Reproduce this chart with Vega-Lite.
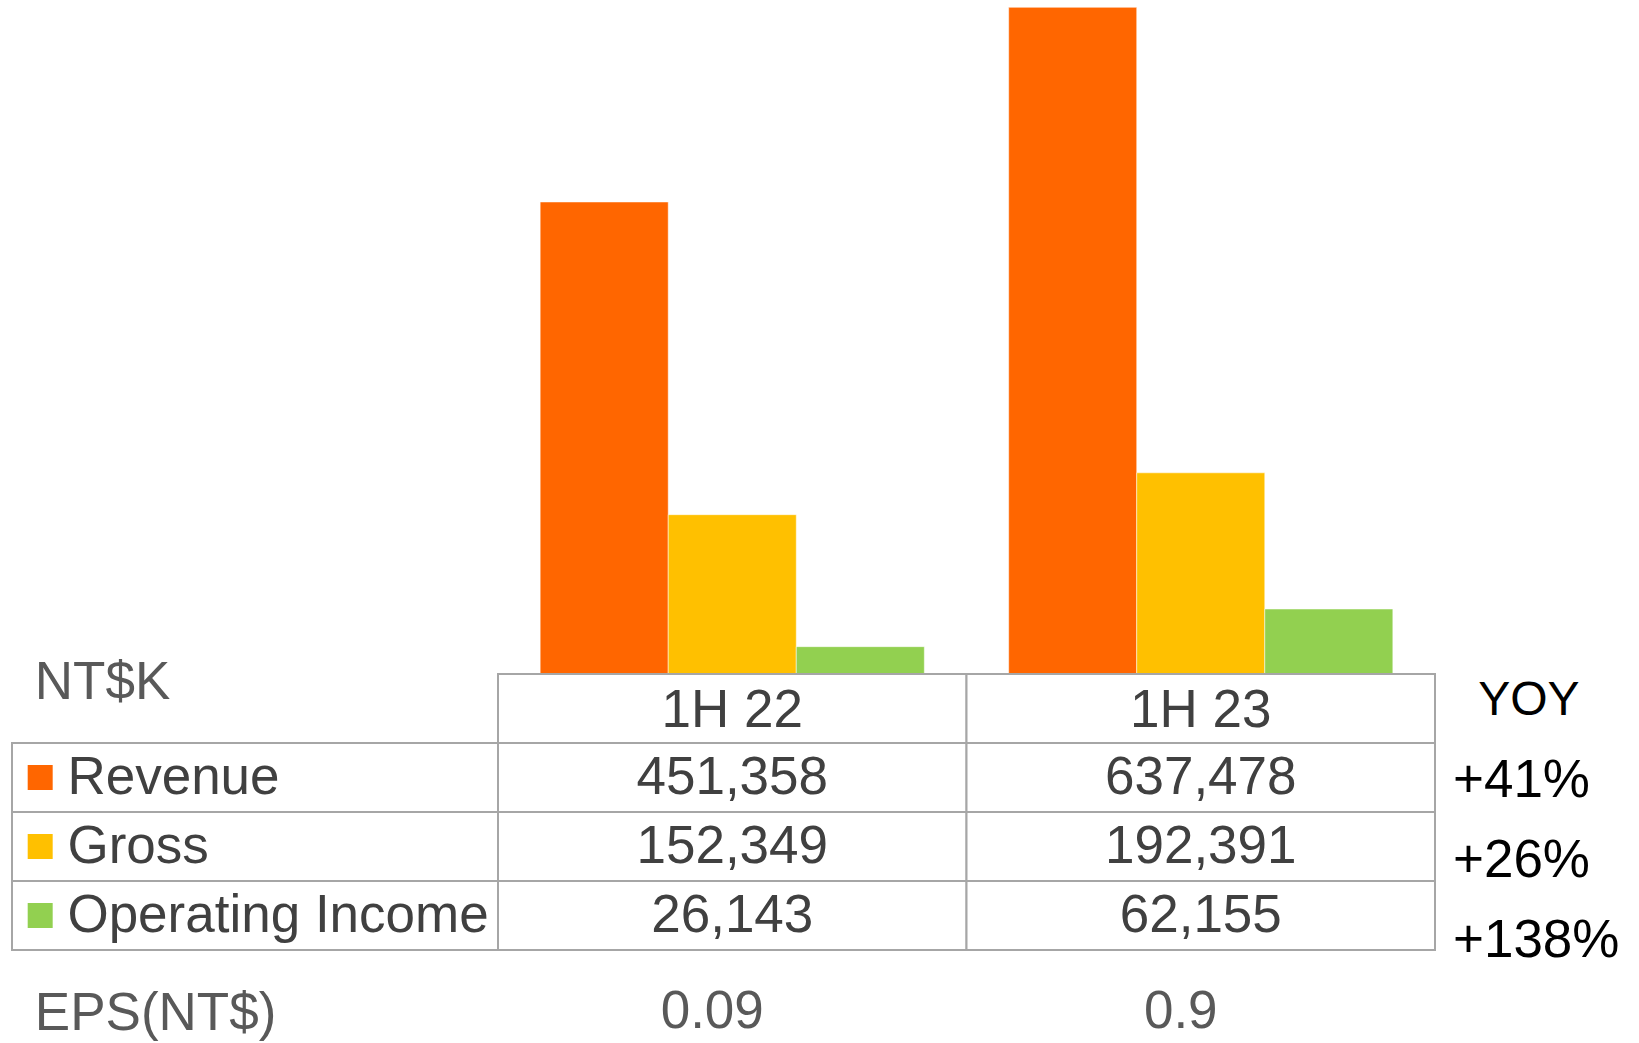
{
  "$schema": "https://vega.github.io/schema/vega-lite/v6.json",
  "background": "white",
  "padding": {"left": 11, "top": 0, "right": 0, "bottom": 0},
  "config": {
    "font": "Liberation Sans",
    "view": {"stroke": null},
    "axis": {"disable": true},
    "legend": {"disable": true}
  },
  "datasets": {
    "financials": [
      {"period": "1H 22", "metric": "Revenue", "value": 451358},
      {"period": "1H 22", "metric": "Gross", "value": 152349},
      {"period": "1H 22", "metric": "Operating Income", "value": 26143},
      {"period": "1H 23", "metric": "Revenue", "value": 637478},
      {"period": "1H 23", "metric": "Gross", "value": 192391},
      {"period": "1H 23", "metric": "Operating Income", "value": 62155}
    ],
    "metrics": [
      {"metric": "Revenue", "yoy": 0.41},
      {"metric": "Gross", "yoy": 0.26},
      {"metric": "Operating Income", "yoy": 1.38}
    ],
    "periods": [
      {"period": "1H 22", "eps": 0.09},
      {"period": "1H 23", "eps": 0.9}
    ]
  },
  "spacing": 0,
  "bounds": "flush",
  "columns": 3,
  "concat": [
    {
      "width": 486,
      "height": 674,
      "data": {"values": [{"t": ""}]},
      "mark": {"type": "text"},
      "encoding": {"text": {"field": "t"}}
    },
    {
      "width": 937,
      "height": 674,
      "data": {"name": "financials"},
      "mark": {"type": "bar", "stroke": "white", "strokeWidth": 1, "strokeOpacity": 0.5},
      "encoding": {
        "x": {"field": "period", "type": "nominal", "scale": {"domain": ["1H 22", "1H 23"], "paddingInner": 0.18, "paddingOuter": 0.09}, "axis": null},
        "xOffset": {"field": "metric", "type": "nominal", "scale": {"domain": ["Revenue", "Gross", "Operating Income"], "paddingInner": 0, "paddingOuter": 0}},
        "y": {"field": "value", "type": "quantitative", "scale": {"domain": [0, 644500], "nice": false}, "axis": null},
        "color": {"field": "metric", "type": "nominal", "scale": {"domain": ["Revenue", "Gross", "Operating Income"], "range": ["#FF6600", "#FFC000", "#92D050"]}, "legend": null}
      }
    },
    {
      "width": 204,
      "height": 674,
      "data": {"values": [{"t": ""}]},
      "mark": {"type": "text"},
      "encoding": {"text": {"field": "t"}}
    },
    {
      "width": 486,
      "height": 345,
      "layer": [
        {
          "data": {"name": "metrics"},
          "mark": {"type": "rect", "fill": "white", "stroke": "#A6A6A6", "strokeWidth": 2},
          "encoding": {
            "x": {"datum": 0, "type": "quantitative", "scale": {"domain": [0, 1]}},
            "x2": {"datum": 1},
            "y": {"field": "metric", "type": "nominal", "scale": {"type": "band", "domain": ["Period", "Revenue", "Gross", "Operating Income", "EPS"], "paddingInner": 0, "paddingOuter": 0}}
          }
        },
        {
          "data": {"name": "metrics"},
          "mark": {"type": "point", "shape": "square", "filled": true, "size": 625, "opacity": 1},
          "encoding": {
            "x": {"datum": 0.058, "type": "quantitative", "scale": {"domain": [0, 1]}},
            "y": {"field": "metric", "type": "nominal", "scale": {"type": "band", "domain": ["Period", "Revenue", "Gross", "Operating Income", "EPS"], "paddingInner": 0, "paddingOuter": 0}},
            "color": {"field": "metric", "type": "nominal", "scale": {"domain": ["Revenue", "Gross", "Operating Income"], "range": ["#FF6600", "#FFC000", "#92D050"]}, "legend": null}
          }
        },
        {
          "data": {"name": "metrics"},
          "mark": {"type": "text", "align": "left", "baseline": "middle", "fontSize": 53, "color": "#404040"},
          "encoding": {
            "x": {"datum": 0.114, "type": "quantitative", "scale": {"domain": [0, 1]}},
            "y": {"field": "metric", "type": "nominal", "scale": {"type": "band", "domain": ["Period", "Revenue", "Gross", "Operating Income", "EPS"], "paddingInner": 0, "paddingOuter": 0}},
            "text": {"field": "metric"}
          }
        },
        {
          "data": {"values": [{"row": "Period", "label": "NT$K"}]},
          "mark": {"type": "text", "align": "left", "baseline": "middle", "fontSize": 53, "color": "#595959"},
          "encoding": {
            "x": {"datum": 0.047, "type": "quantitative", "scale": {"domain": [0, 1]}},
            "y": {"field": "row", "type": "nominal", "bandPosition": 0.13, "scale": {"type": "band", "domain": ["Period", "Revenue", "Gross", "Operating Income", "EPS"], "paddingInner": 0, "paddingOuter": 0}},
            "text": {"field": "label"}
          }
        },
        {
          "data": {"values": [{"row": "EPS", "label": "EPS(NT$)"}]},
          "mark": {"type": "text", "align": "left", "baseline": "middle", "fontSize": 53, "color": "#595959"},
          "encoding": {
            "x": {"datum": 0.047, "type": "quantitative", "scale": {"domain": [0, 1]}},
            "y": {"field": "row", "type": "nominal", "bandPosition": 0.93, "scale": {"type": "band", "domain": ["Period", "Revenue", "Gross", "Operating Income", "EPS"], "paddingInner": 0, "paddingOuter": 0}},
            "text": {"field": "label"}
          }
        }
      ]
    },
    {
      "width": 937,
      "height": 345,
      "layer": [
        {
          "data": {"name": "periods"},
          "mark": {"type": "rect", "fill": "white", "stroke": "#A6A6A6", "strokeWidth": 2},
          "encoding": {
            "x": {"field": "period", "type": "nominal", "scale": {"domain": ["1H 22", "1H 23"], "paddingInner": 0, "paddingOuter": 0}},
            "y": {"datum": "Period", "type": "nominal", "scale": {"type": "band", "domain": ["Period", "Revenue", "Gross", "Operating Income", "EPS"], "paddingInner": 0, "paddingOuter": 0}}
          }
        },
        {
          "data": {"name": "financials"},
          "mark": {"type": "rect", "fill": "white", "stroke": "#A6A6A6", "strokeWidth": 2},
          "encoding": {
            "x": {"field": "period", "type": "nominal", "scale": {"domain": ["1H 22", "1H 23"], "paddingInner": 0, "paddingOuter": 0}},
            "y": {"field": "metric", "type": "nominal", "scale": {"type": "band", "domain": ["Period", "Revenue", "Gross", "Operating Income", "EPS"], "paddingInner": 0, "paddingOuter": 0}}
          }
        },
        {
          "data": {"name": "periods"},
          "mark": {"type": "text", "align": "center", "baseline": "middle", "fontSize": 53, "color": "#404040", "dy": 2},
          "encoding": {
            "x": {"field": "period", "type": "nominal", "scale": {"domain": ["1H 22", "1H 23"], "paddingInner": 0, "paddingOuter": 0}},
            "y": {"datum": "Period", "type": "nominal", "scale": {"type": "band", "domain": ["Period", "Revenue", "Gross", "Operating Income", "EPS"], "paddingInner": 0, "paddingOuter": 0}},
            "text": {"field": "period"}
          }
        },
        {
          "data": {"name": "financials"},
          "mark": {"type": "text", "align": "center", "baseline": "middle", "fontSize": 53, "color": "#404040"},
          "encoding": {
            "x": {"field": "period", "type": "nominal", "scale": {"domain": ["1H 22", "1H 23"], "paddingInner": 0, "paddingOuter": 0}},
            "y": {"field": "metric", "type": "nominal", "scale": {"type": "band", "domain": ["Period", "Revenue", "Gross", "Operating Income", "EPS"], "paddingInner": 0, "paddingOuter": 0}},
            "text": {"field": "value", "type": "quantitative", "format": ","}
          }
        },
        {
          "data": {"name": "periods"},
          "mark": {"type": "text", "align": "center", "baseline": "middle", "fontSize": 53, "color": "#595959", "dx": -20, "dy": 27},
          "encoding": {
            "x": {"field": "period", "type": "nominal", "scale": {"domain": ["1H 22", "1H 23"], "paddingInner": 0, "paddingOuter": 0}},
            "y": {"datum": "EPS", "type": "nominal", "scale": {"type": "band", "domain": ["Period", "Revenue", "Gross", "Operating Income", "EPS"], "paddingInner": 0, "paddingOuter": 0}},
            "text": {"field": "eps", "type": "quantitative"}
          }
        }
      ]
    },
    {
      "width": 204,
      "height": 320,
      "layer": [
        {
          "data": {"values": [{"row": "YOY", "label": "YOY"}]},
          "mark": {"type": "text", "align": "center", "baseline": "middle", "fontSize": 48, "color": "#000000"},
          "encoding": {
            "x": {"datum": 0.46, "type": "quantitative", "scale": {"domain": [0, 1]}},
            "y": {"field": "row", "type": "nominal", "bandPosition": 0.34, "scale": {"type": "band", "domain": ["YOY", "Revenue", "Gross", "Operating Income"], "paddingInner": 0, "paddingOuter": 0}},
            "text": {"field": "label"}
          }
        },
        {
          "data": {"name": "metrics"},
          "mark": {"type": "text", "align": "left", "baseline": "middle", "fontSize": 53, "color": "#000000"},
          "encoding": {
            "x": {"datum": 0.088, "type": "quantitative", "scale": {"domain": [0, 1]}},
            "y": {"field": "metric", "type": "nominal", "bandPosition": 0.34, "scale": {"type": "band", "domain": ["YOY", "Revenue", "Gross", "Operating Income"], "paddingInner": 0, "paddingOuter": 0}},
            "text": {"field": "yoy", "type": "quantitative", "format": "+.0%"}
          }
        }
      ]
    }
  ]
}
